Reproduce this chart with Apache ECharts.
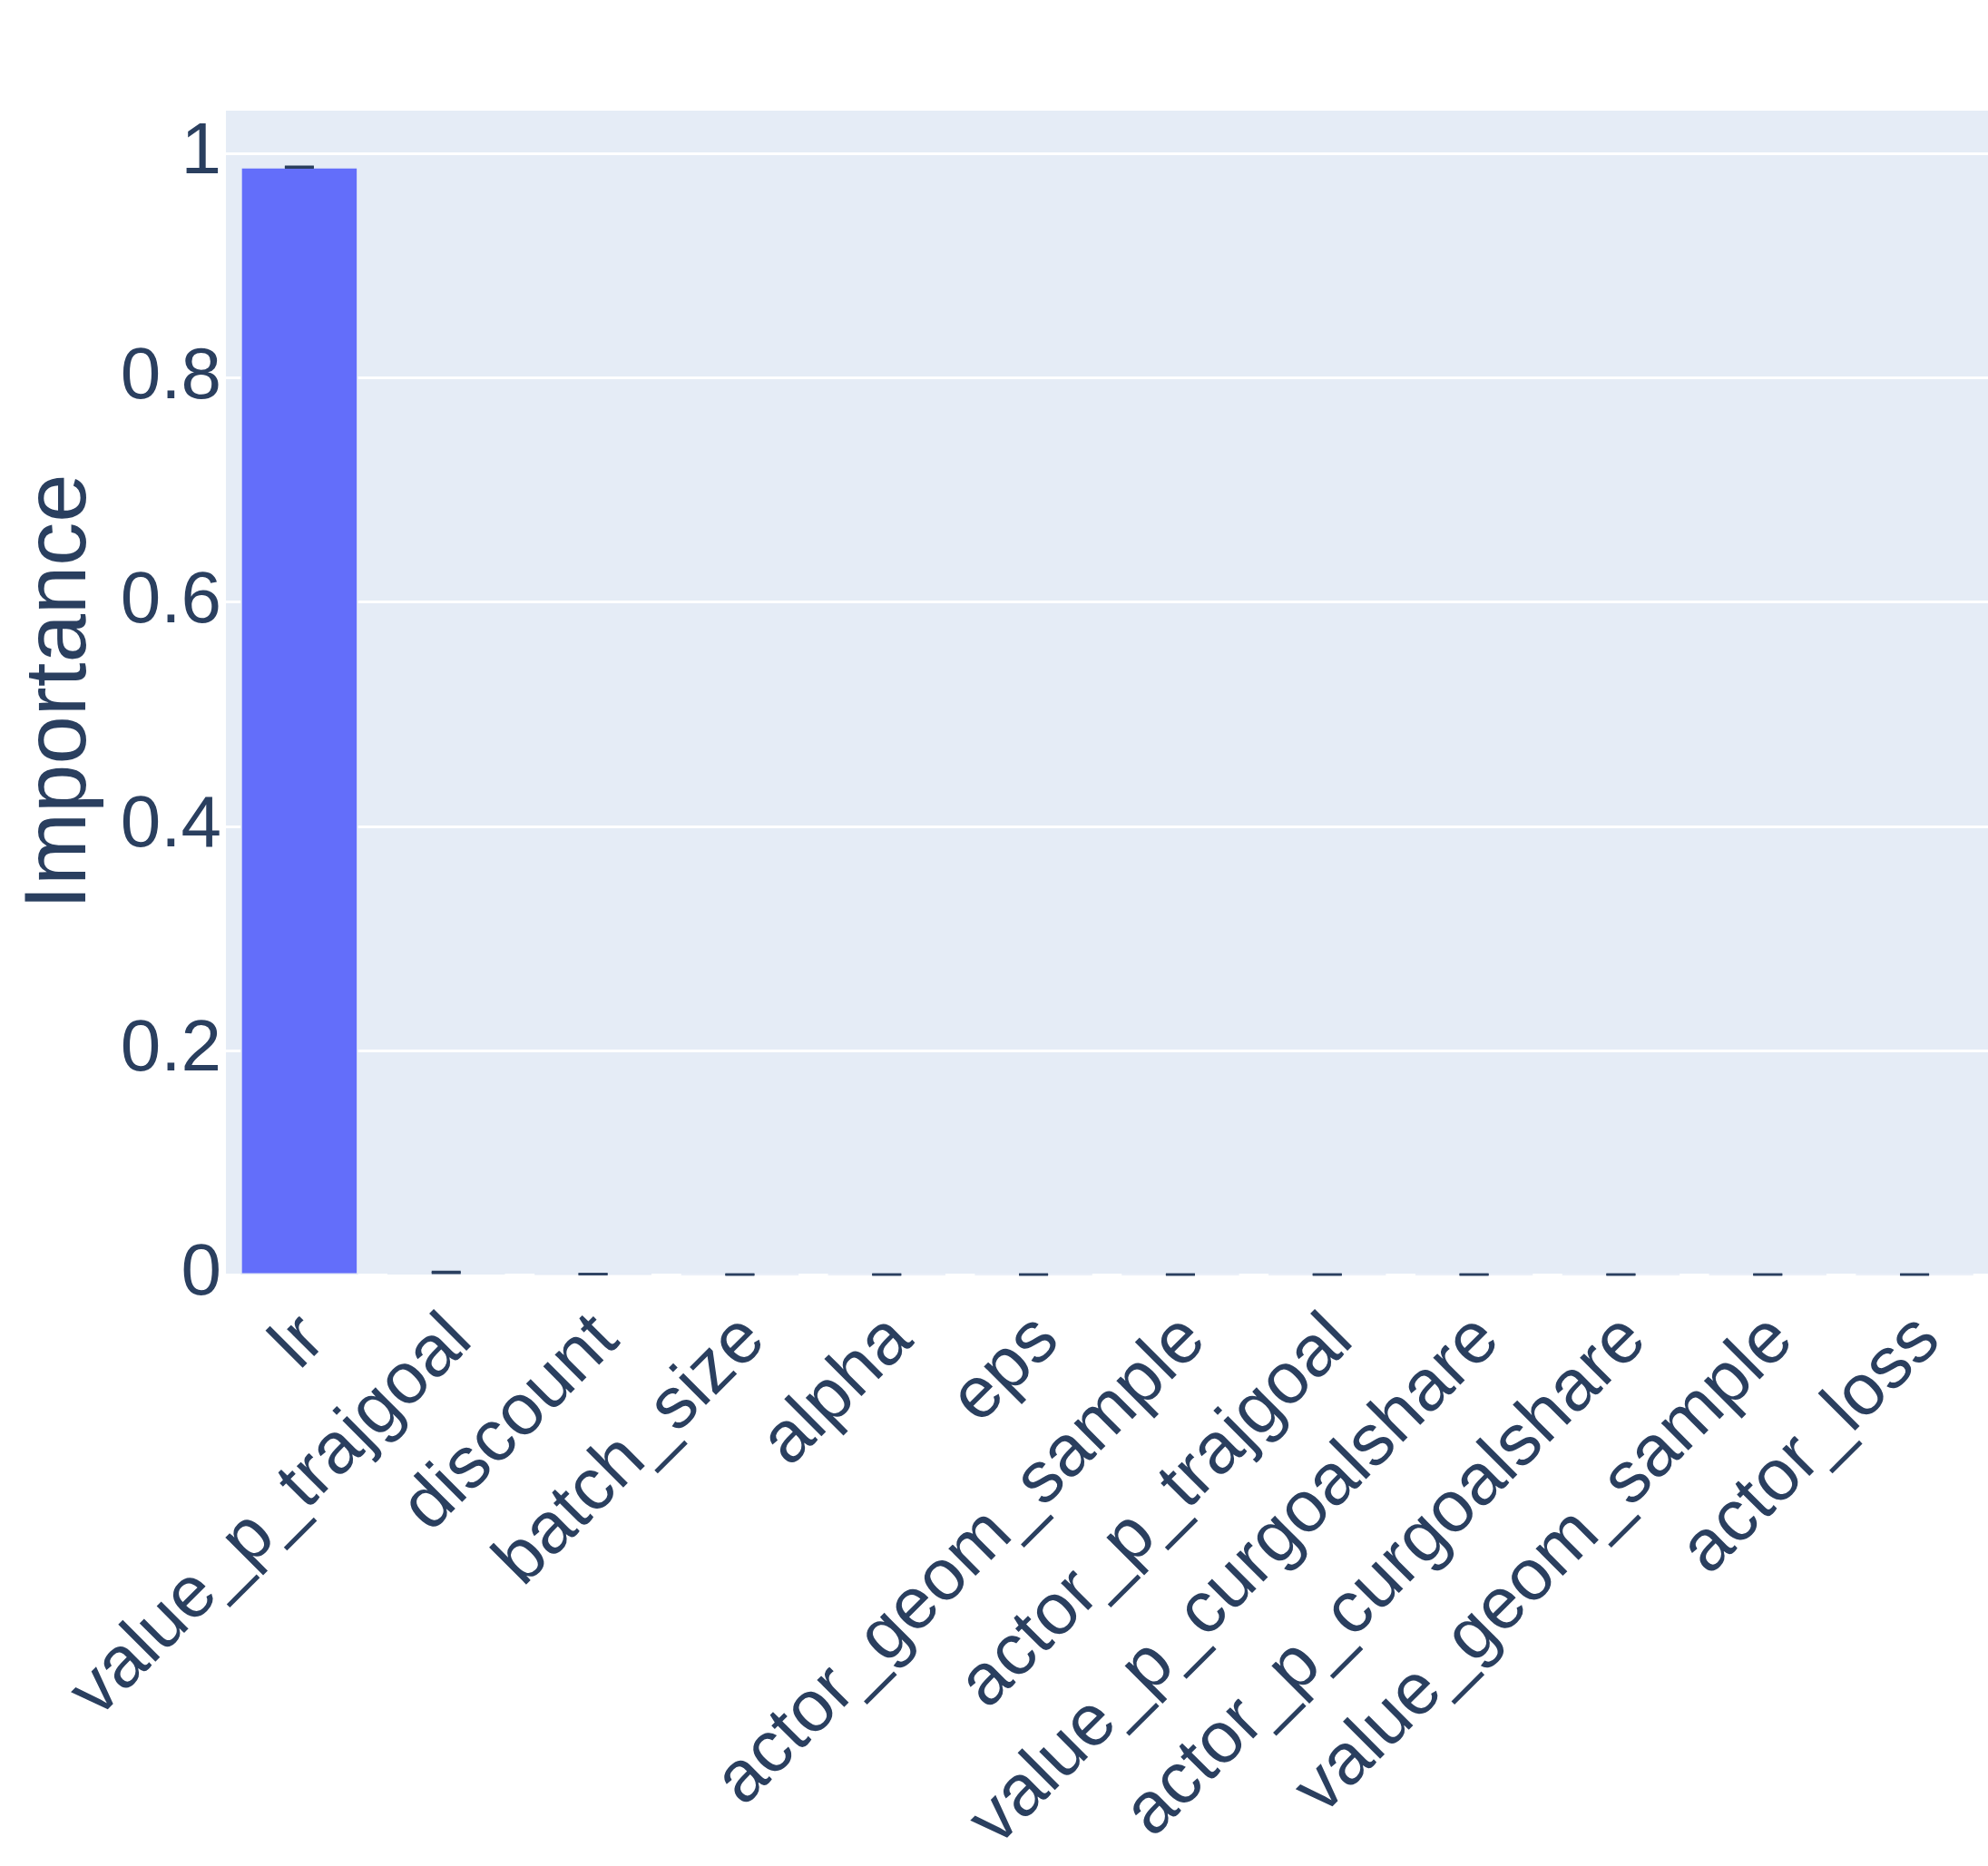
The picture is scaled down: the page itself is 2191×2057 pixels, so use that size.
<!DOCTYPE html>
<html>
<head>
<meta charset="utf-8">
<script src="https://cdn.jsdelivr.net/npm/echarts@6/dist/echarts.min.js"></script>
<style>
  html, body { margin: 0; padding: 0; background: #fff; }
</style>
</head>
<body>
<div id="chart" style="width:2191px;height:2057px"></div>
<script>
// hyperparameter importance
const params = ['lr', 'value_p_trajgoal', 'discount', 'batch_size', 'alpha', 'eps',
  'actor_geom_sample', 'actor_p_trajgoal', 'value_p_curgoalshare',
  'actor_p_curgoalshare', 'value_geom_sample', 'actor_loss'];
const importance = [0.988, 0.002, 0.0005, 0, 0, 0, 0, 0, 0, 0, 0, 0];
const errors = [0.0005, 0.0005, 0, 0, 0, 0, 0, 0, 0, 0, 0, 0];
const yTicks = [0, 0.2, 0.4, 0.6, 0.8, 1];

const textColor = '#2a3f5f';
const fontFamily = '"Liberation Sans", Arial, sans-serif';

const chart = echarts.init(document.getElementById('chart'));

// error bars drawn as custom series
function renderError(params, api) {
  const idx = api.value(0);
  const v = api.value(1);
  const e = api.value(2);
  const top = api.coord([idx, v + e]);
  const bot = api.coord([idx, v - e]);
  const half = 16;
  const style = { stroke: textColor, lineWidth: 2.5 };
  return {
    type: 'group',
    children: [
      { type: 'line', shape: { x1: top[0], y1: top[1], x2: bot[0], y2: bot[1] }, style: style },
      { type: 'line', shape: { x1: top[0] - half, y1: top[1], x2: top[0] + half, y2: top[1] }, style: style },
      { type: 'line', shape: { x1: bot[0] - half, y1: bot[1], x2: bot[0] + half, y2: bot[1] }, style: style }
    ]
  };
}

chart.setOption({
  animation: false,
  backgroundColor: '#fff',
  textStyle: { fontFamily: fontFamily },
  grid: {
    left: 249,
    right: 0,
    top: 120,
    bottom: 652,
    show: true,
    backgroundColor: '#E5ECF6',
    borderWidth: 0
  },
  xAxis: {
    type: 'category',
    data: params,
    axisLine: { show: false },
    axisTick: { show: false },
    splitLine: { show: false },
    axisLabel: {
      interval: 0,
      rotate: 45,
      margin: 44,
      verticalAlign: 'top',
      lineHeight: 44,
      color: textColor,
      fontSize: 80,
      fontFamily: fontFamily
    }
  },
  yAxis: {
    type: 'value',
    min: 0,
    max: 1.04,
    interval: 0.2,
    name: 'Importance',
    nameLocation: 'middle',
    nameGap: 133,
    nameTextStyle: { color: textColor, fontSize: 96, fontFamily: fontFamily },
    axisLine: { show: false },
    axisTick: { show: false },
    splitLine: { lineStyle: { color: '#ffffff', width: 3 } },
    axisLabel: {
      showMaxLabel: false,
      margin: 5,
      color: textColor,
      fontSize: 80,
      fontFamily: fontFamily,
      formatter: function (v) {
        return yTicks.indexOf(Math.round(v * 10) / 10) >= 0 ? String(Math.round(v * 10) / 10) : '';
      }
    }
  },
  series: [
    {
      type: 'bar',
      data: importance,
      barCategoryGap: '20%',
      itemStyle: { color: '#636efa', borderColor: '#E5ECF6', borderWidth: 1.5 }
    },
    {
      type: 'custom',
      renderItem: renderError,
      data: importance.map((v, i) => [i, v, errors[i]]),
      encode: { x: 0, y: 1 },
      z: 5
    }
  ]
});
</script>
</body>
</html>
